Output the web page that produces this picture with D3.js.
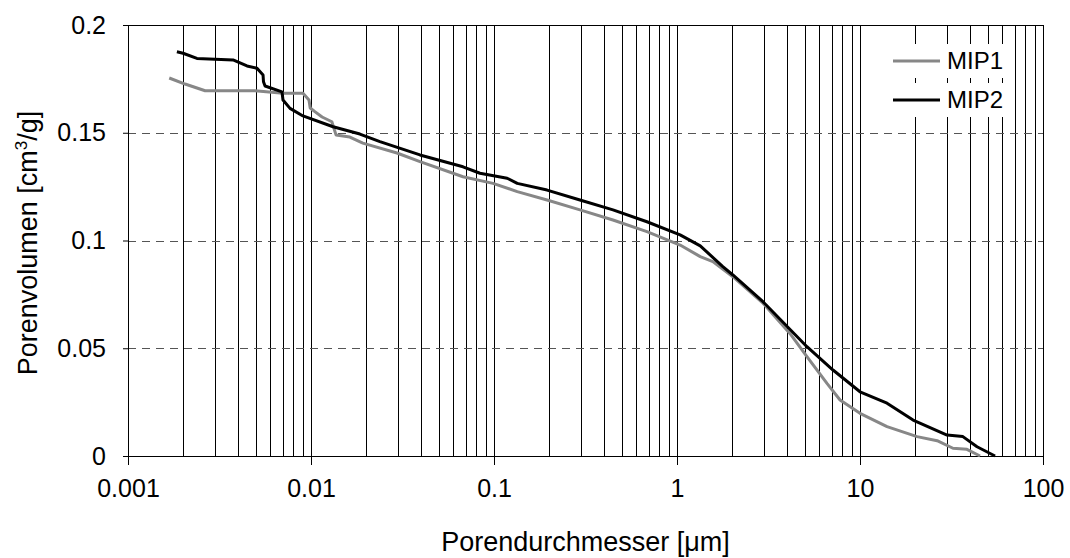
<!DOCTYPE html>
<html>
<head>
<meta charset="utf-8">
<script src="https://cdn.jsdelivr.net/npm/d3@7"></script>
<style>
  body { margin: 0; background: #fff; }
  svg { font-family: "Liberation Sans", Arial, sans-serif; }
</style>
</head>
<body>
<div id="chart-container"></div>
<script>
// pore diameter [µm] and cumulative pore volume [cm³/g]
const mip1Diam = [0.00168, 0.00205, 0.00264, 0.00494, 0.00703, 0.00904, 0.00975, 0.0099, 0.0105, 0.0115, 0.0130, 0.0137, 0.0163,
    0.0192, 0.0295, 0.0394, 0.0677, 0.0988, 0.134, 0.195, 0.295, 0.447, 0.685, 1.04, 1.34, 1.57, 2.02,
    2.95, 4.14, 5.13, 6.6, 7.78, 10, 14.05, 20.5, 26.4, 32.2, 38.4, 45.3];
const mip1Vol = [0.1754, 0.1726, 0.1695, 0.1695, 0.1683, 0.1683, 0.1652, 0.1615, 0.1598, 0.1573, 0.1551, 0.1490, 0.1480,
    0.1452, 0.1406, 0.1366, 0.1296, 0.1265, 0.1227, 0.1188, 0.1142, 0.1095, 0.1041, 0.0979, 0.0925, 0.0902, 0.0832,
    0.0709, 0.0569, 0.0461, 0.0337, 0.0260, 0.0198, 0.0136, 0.0090, 0.0071, 0.0036, 0.0031, 0];

const mip2Diam = [0.00185, 0.0020, 0.00238, 0.00375, 0.00447, 0.00507, 0.00547, 0.00550, 0.00561, 0.00694, 0.00703, 0.00768, 0.00904,
    0.0132, 0.0185, 0.0238, 0.0394, 0.0677, 0.0838, 0.118, 0.134, 0.195, 0.295, 0.447, 0.685, 1.04, 1.34, 1.78,
    2.02, 2.95, 5.13, 7.12, 10, 14.05, 19.5, 29.9, 36.5, 43.6, 54.7];
const mip2Vol = [0.1876, 0.1869, 0.1845, 0.1838, 0.1810, 0.1799, 0.1768, 0.1737, 0.1717, 0.1690, 0.1652, 0.1613, 0.1578,
    0.1528, 0.1494, 0.1459, 0.1397, 0.1342, 0.1312, 0.1289, 0.1265, 0.1234, 0.1188, 0.1142, 0.1087, 0.1026, 0.0975, 0.0879,
    0.0840, 0.0716, 0.0507, 0.0399, 0.0298, 0.0245, 0.0167, 0.0097, 0.0090, 0.0043, 0];

const seriesNames = ["MIP1", "MIP2"];
const seriesColors = ["#878787", "#000000"];
const xTicks = [0.001, 0.01, 0.1, 1, 10, 100];
const yTicks = [0, 0.05, 0.1, 0.15, 0.2];

const series = [
    { name: seriesNames[0], color: seriesColors[0], values: mip1Diam.map((d, i) => ({ d: d, v: mip1Vol[i] })) },
    { name: seriesNames[1], color: seriesColors[1], values: mip2Diam.map((d, i) => ({ d: d, v: mip2Vol[i] })) }
];

const margin = { top: 25, right: 27, bottom: 102, left: 128 };
const width = 1070 - margin.left - margin.right;
const height = 558 - margin.top - margin.bottom;

const svg = d3.select("#chart-container")
    .append("svg")
    .attr("width", 1070)
    .attr("height", 558)
    .append("g")
    .attr("transform", `translate(${margin.left},${margin.top})`);

const x = d3.scaleLog().domain([0.001, 100]).range([0, width]);
const y = d3.scaleLinear().domain([0, 0.2]).range([height, 0]);

// vertical grid at every decade subdivision
const minor = [];
for (let k = -3; k < 2; k++) {
    for (let m = 1; m <= 9; m++) {
        const val = m * Math.pow(10, k);
        if (val > 0.001) minor.push(val);
    }
}
svg.selectAll(".vgrid")
    .data(minor)
    .enter().append("line")
    .attr("class", "vgrid")
    .attr("x1", d => Math.round(x(d)) + 0.5)
    .attr("x2", d => Math.round(x(d)) + 0.5)
    .attr("y1", 0)
    .attr("y2", height)
    .attr("stroke", "#000")
    .attr("stroke-width", 1);

// horizontal dashed grid
svg.selectAll(".hgrid")
    .data(yTicks.filter(t => t > 0 && t < 0.2))
    .enter().append("line")
    .attr("class", "hgrid")
    .attr("x1", 0)
    .attr("x2", width)
    .attr("y1", d => Math.round(y(d)) + 0.5)
    .attr("y2", d => Math.round(y(d)) + 0.5)
    .attr("stroke", "#555")
    .attr("stroke-width", 1)
    .attr("stroke-dasharray", "8,6");

// top and right border
svg.append("line").attr("x1", 0).attr("x2", width).attr("y1", 0.5).attr("y2", 0.5).attr("stroke", "#000");
svg.append("line").attr("x1", width + 0.5).attr("x2", width + 0.5).attr("y1", 0).attr("y2", height).attr("stroke", "#000");

// axes
const xAxis = svg.append("g")
    .attr("transform", `translate(0,${height})`)
    .call(d3.axisBottom(x).tickValues(xTicks).tickSize(9).tickPadding(14)
        .tickFormat(d => d3.format("~g")(d)));
const yAxis = svg.append("g")
    .call(d3.axisLeft(y).tickValues(yTicks).tickSize(5).tickPadding(17)
        .tickFormat(d => d3.format("~g")(d)));

[xAxis, yAxis].forEach(a => {
    a.attr("font-size", null).attr("font-family", null);
    a.select(".domain").attr("stroke", "#000");
    a.selectAll("line").attr("stroke", "#000");
    a.selectAll("text")
        .style("font-size", "25px")
        .attr("fill", "#000");
});

// curves
const line = d3.line()
    .x(d => x(d.d))
    .y(d => y(d.v));

svg.selectAll(".series")
    .data(series)
    .enter().append("path")
    .attr("class", "series")
    .attr("d", d => line(d.values))
    .attr("fill", "none")
    .attr("stroke", d => d.color)
    .attr("stroke-width", 3)
    .attr("stroke-linejoin", "round");

// legend
const legend = svg.selectAll(".legend")
    .data(series)
    .enter().append("g")
    .attr("class", "legend")
    .attr("transform", (d, i) => `translate(${765},${36 + i * 39})`);

legend.append("rect")
    .attr("x", -8).attr("y", -17)
    .attr("width", 125).attr("height", 34)
    .attr("fill", "#fff");
legend.append("line")
    .attr("x1", 0).attr("x2", 47)
    .attr("stroke", d => d.color)
    .attr("stroke-width", 3);
legend.append("text")
    .attr("x", 54)
    .attr("dy", "0.35em")
    .style("font-size", "24px")
    .text(d => d.name);

// axis titles
svg.append("text")
    .attr("text-anchor", "middle")
    .attr("x", width / 2)
    .attr("y", height + 95)
    .style("font-size", "27px")
    .text("Porendurchmesser [μm]");

const yl = svg.append("text")
    .attr("text-anchor", "middle")
    .attr("transform", "rotate(-90)")
    .attr("x", -(243 - margin.top))
    .attr("y", 37 - margin.left)
    .style("font-size", "27px");
yl.append("tspan").text("Porenvolumen [cm");
yl.append("tspan").style("font-size", "17px").attr("dy", -10).text("3");
yl.append("tspan").attr("dy", 10).text("/g]");
</script>
</body>
</html>
